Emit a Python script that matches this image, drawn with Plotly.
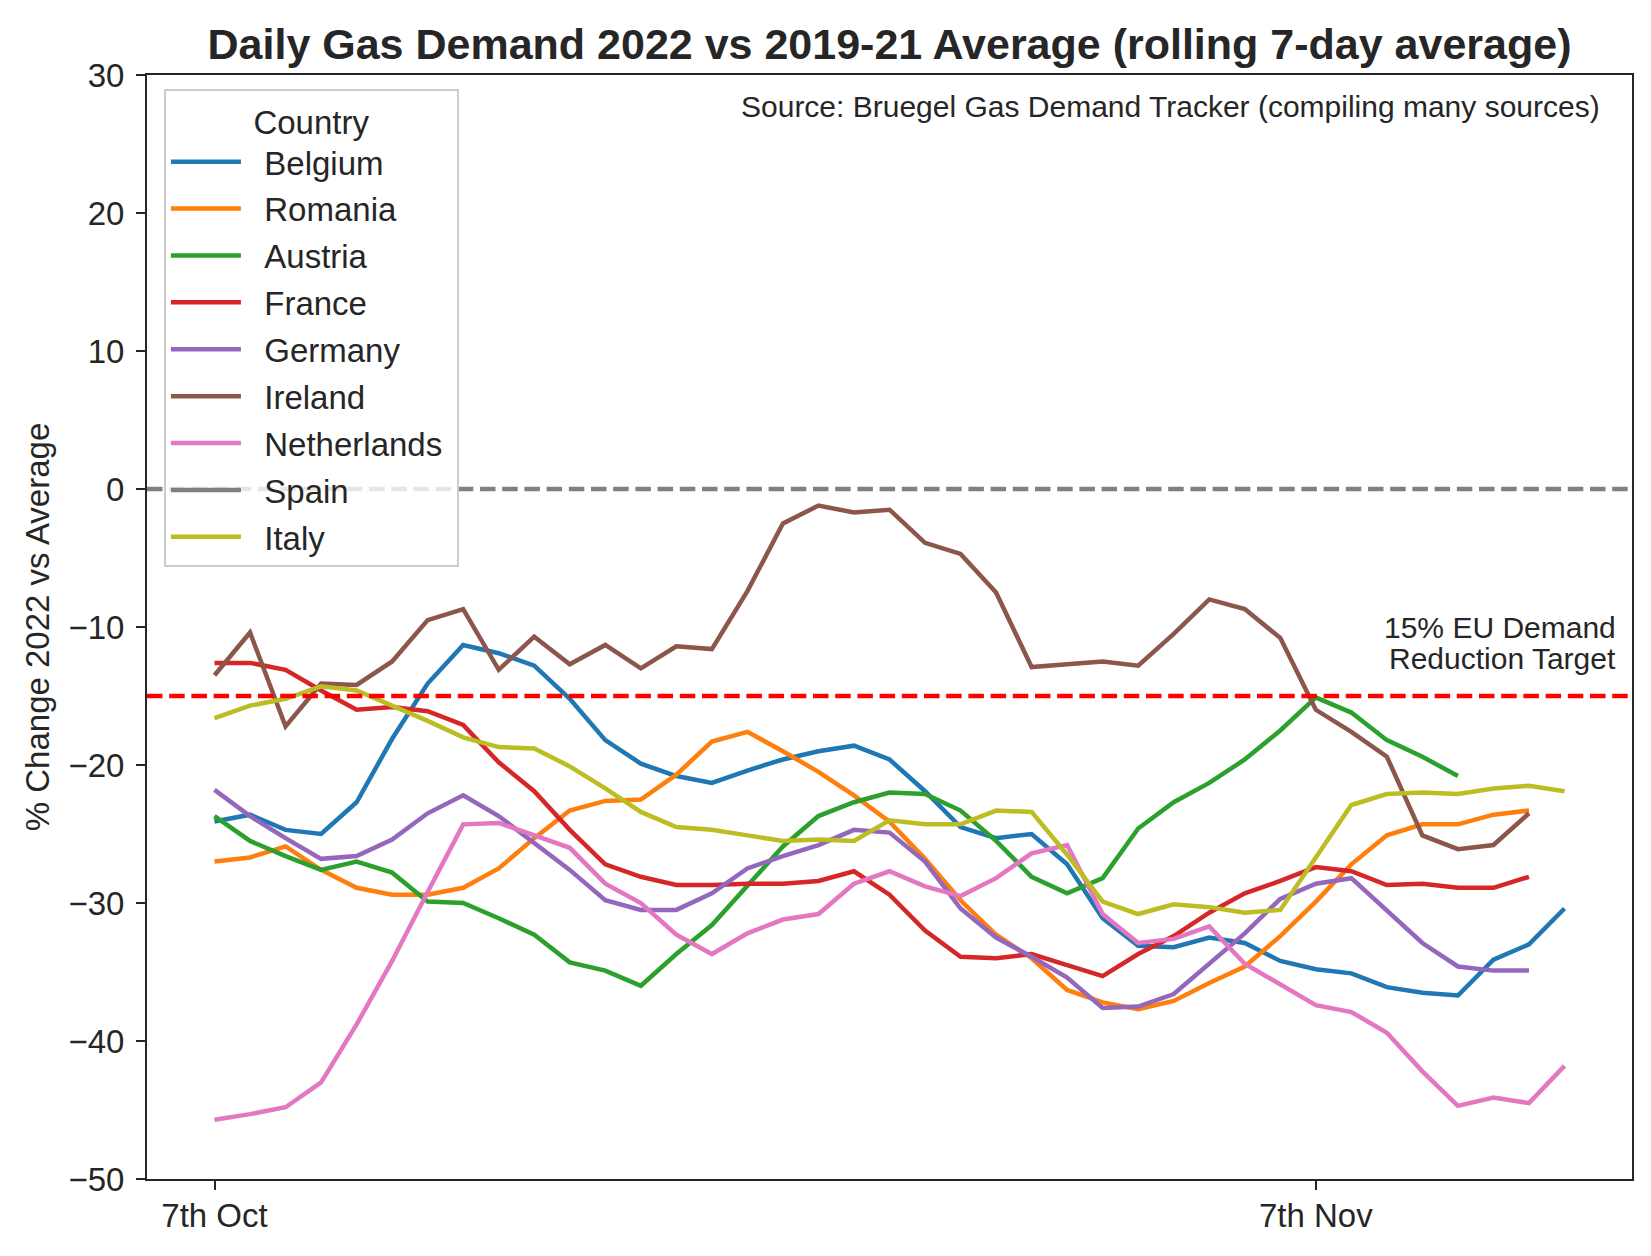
import pandas as pd
import plotly.graph_objects as go

# ---- data (rolling 7-day avg, % change 2022 vs 2019-21 average), daily from 7 Oct 2022 ----
start_date = "2022-10-07"
n_days = 39
dates = pd.date_range(start_date, periods=n_days, freq="D")

belgium = [-24.1, -23.6, -24.7, -25.0, -22.7, -18.1, -14.1, -11.3, -11.9, -12.8,
           -15.2, -18.2, -19.9, -20.8, -21.3, -20.4, -19.6, -19.0, -18.6, -19.6,
           -21.9, -24.5, -25.3, -25.0, -27.2, -31.1, -33.1, -33.2, -32.5, -32.9,
           -34.2, -34.8, -35.1, -36.1, -36.5, -36.7, -34.1, -33.0, -30.4]
romania = [-27.0, -26.7, -25.9, -27.6, -28.9, -29.4, -29.4, -28.9, -27.5, -25.3,
           -23.3, -22.6, -22.5, -20.7, -18.3, -17.6, -19.0, -20.5, -22.2, -24.1,
           -26.8, -29.8, -32.3, -34.0, -36.3, -37.2, -37.7, -37.1, -35.8, -34.6,
           -32.4, -29.9, -27.2, -25.1, -24.3, -24.3, -23.6, -23.3, None]
austria = [-23.7, -25.5, -26.6, -27.6, -27.0, -27.8, -29.9, -30.0, -31.1, -32.3,
           -34.3, -34.9, -36.0, -33.7, -31.6, -28.8, -25.9, -23.7, -22.7, -22.0,
           -22.1, -23.3, -25.5, -28.1, -29.3, -28.2, -24.6, -22.7, -21.3, -19.6,
           -17.5, -15.1, -16.2, -18.2, -19.4, -20.8, None, None, None]
france = [-12.6, -12.6, -13.1, -14.6, -16.0, -15.8, -16.1, -17.1, -19.8, -21.9,
          -24.7, -27.2, -28.1, -28.7, -28.7, -28.6, -28.6, -28.4, -27.7, -29.4,
          -32.0, -33.9, -34.0, -33.7, -34.5, -35.3, -33.7, -32.4, -30.7, -29.3,
          -28.4, -27.4, -27.7, -28.7, -28.6, -28.9, -28.9, -28.1, None]
germany = [-21.8, -23.7, -25.3, -26.8, -26.6, -25.4, -23.5, -22.2, -23.7, -25.6,
           -27.6, -29.8, -30.5, -30.5, -29.3, -27.5, -26.6, -25.8, -24.7, -24.9,
           -27.0, -30.4, -32.5, -33.9, -35.4, -37.6, -37.5, -36.6, -34.4, -32.2,
           -29.7, -28.6, -28.2, -30.6, -32.9, -34.6, -34.9, -34.9, None]
ireland = [-13.5, -10.4, -17.2, -14.1, -14.2, -12.5, -9.5, -8.7, -13.1, -10.7,
           -12.7, -11.3, -13.0, -11.4, -11.6, -7.4, -2.5, -1.2, -1.7, -1.5,
           -3.9, -4.7, -7.5, -12.9, -12.7, -12.5, -12.8, -10.5, -8.0, -8.7,
           -10.8, -16.0, -17.6, -19.4, -25.1, -26.1, -25.8, -23.5, None]
netherlands = [-45.7, -45.3, -44.8, -43.0, -38.8, -34.2, -29.2, -24.3, -24.2, -25.1,
               -26.0, -28.6, -30.0, -32.3, -33.7, -32.2, -31.2, -30.8, -28.6, -27.7,
               -28.8, -29.5, -28.2, -26.4, -25.8, -30.8, -32.9, -32.6, -31.7, -34.4,
               -35.9, -37.4, -37.9, -39.4, -42.2, -44.7, -44.1, -44.5, -41.8]
spain = [None] * n_days
italy = [-16.6, -15.7, -15.2, -14.3, -14.6, -15.7, -16.8, -18.0, -18.7, -18.8,
         -20.1, -21.7, -23.4, -24.5, -24.7, -25.1, -25.5, -25.4, -25.5, -24.0,
         -24.3, -24.3, -23.3, -23.4, -26.5, -29.9, -30.8, -30.1, -30.3, -30.7,
         -30.5, -26.7, -22.9, -22.1, -22.0, -22.1, -21.7, -21.5, -21.9]

countries = ["Belgium", "Romania", "Austria", "France", "Germany",
             "Ireland", "Netherlands", "Spain", "Italy"]
series = [belgium, romania, austria, france, germany, ireland, netherlands, spain, italy]
colors = ["#1f77b4", "#ff7f0e", "#2ca02c", "#d62728", "#9467bd",
          "#8c564b", "#e377c2", "#7f7f7f", "#bcbd22"]

target_level = -15
baseline_level = 0
tick_dates = ["2022-10-07", "2022-11-07"]
tick_text = ["7th Oct", "7th Nov"]
y_ticks = [-50, -40, -30, -20, -10, 0, 10, 20, 30]

title_text = "Daily Gas Demand 2022 vs 2019-21 Average (rolling 7-day average)"
source_text = "Source: Bruegel Gas Demand Tracker (compiling many sources)"
target_line1 = "15% EU Demand"
target_line2 = "Reduction Target"

FONT = "Liberation Sans, Arial, sans-serif"
INK = "#262626"
PAD = "\u00a0\u00a0"   # spacing between legend handle and label
TAIL = "\u00a0"        # right padding inside legend box

# page has an 8px body margin: figure size/margins compensate for it
FIG_W, FIG_H = 1635, 1240

fig = go.Figure()
for name, vals, col in zip(countries, series, colors):
    if all(v is None for v in vals):
        xs, ys = [dates[0]], [None]
    else:
        xs, ys = dates, vals
    fig.add_trace(go.Scatter(
        x=xs, y=ys, mode="lines", name=PAD + name + TAIL, legendgroup=name,
        line=dict(color=col, width=4.5),
        connectgaps=False,
    ))

dash = "15.5px,6.7px"
fig.add_hline(y=baseline_level, line=dict(color="grey", width=4.5, dash=dash), layer="above")
fig.add_hline(y=target_level, line=dict(color="red", width=4.5, dash=dash), layer="above")

fig.add_annotation(text=source_text, xref="paper", yref="paper", x=0.98, y=0.988,
                   xanchor="right", yanchor="top", showarrow=False,
                   font=dict(family=FONT, size=30, color=INK))
fig.add_annotation(text=target_line1, xref="paper", yref="y", x=0.9905, y=-10.05,
                   xanchor="right", yanchor="middle", showarrow=False,
                   font=dict(family=FONT, size=30, color=INK))
fig.add_annotation(text=target_line2, xref="paper", yref="y", x=0.9905, y=-12.25,
                   xanchor="right", yanchor="middle", showarrow=False,
                   font=dict(family=FONT, size=30, color=INK))

axis_common = dict(showline=True, linecolor=INK, linewidth=2, mirror=True,
                   ticks="outside", ticklen=9, tickwidth=2, tickcolor=INK,
                   showgrid=False, zeroline=False,
                   tickfont=dict(family=FONT, size=33, color=INK))

fig.update_layout(
    width=FIG_W, height=FIG_H,
    margin=dict(l=139, r=9, t=67, b=69),
    paper_bgcolor="white", plot_bgcolor="white",
    font=dict(family=FONT, color=INK),
    title=dict(text=title_text, x=0.5, xref="paper", y=1 - 36 / FIG_H, yref="container",
               xanchor="center", yanchor="middle",
               font=dict(family=FONT, size=43, color=INK, weight="bold")),
    xaxis=dict(type="date", range=["2022-10-05 02:24", "2022-11-15 21:36"],
               tickvals=tick_dates, ticktext=tick_text, ticklabelstandoff=-3,
               **axis_common),
    yaxis=dict(range=[-50, 30], tickvals=y_ticks, ticklabelstandoff=5,
               title=dict(text="% Change 2022 vs Average", standoff=9,
                          font=dict(family=FONT, size=33, color=INK)),
               **axis_common),
    legend=dict(x=0.0114, y=0.9875, xanchor="left", yanchor="top",
                bgcolor="rgba(255,255,255,0.8)", bordercolor="#cccccc", borderwidth=2,
                font=dict(family=FONT, size=33, color=INK),
                title=dict(text="Country", side="top center",
                           font=dict(family=FONT, size=33, color=INK)),
                traceorder="grouped", tracegroupgap=1, itemwidth=70),
    showlegend=True,
)

fig.write_html("out.html")
